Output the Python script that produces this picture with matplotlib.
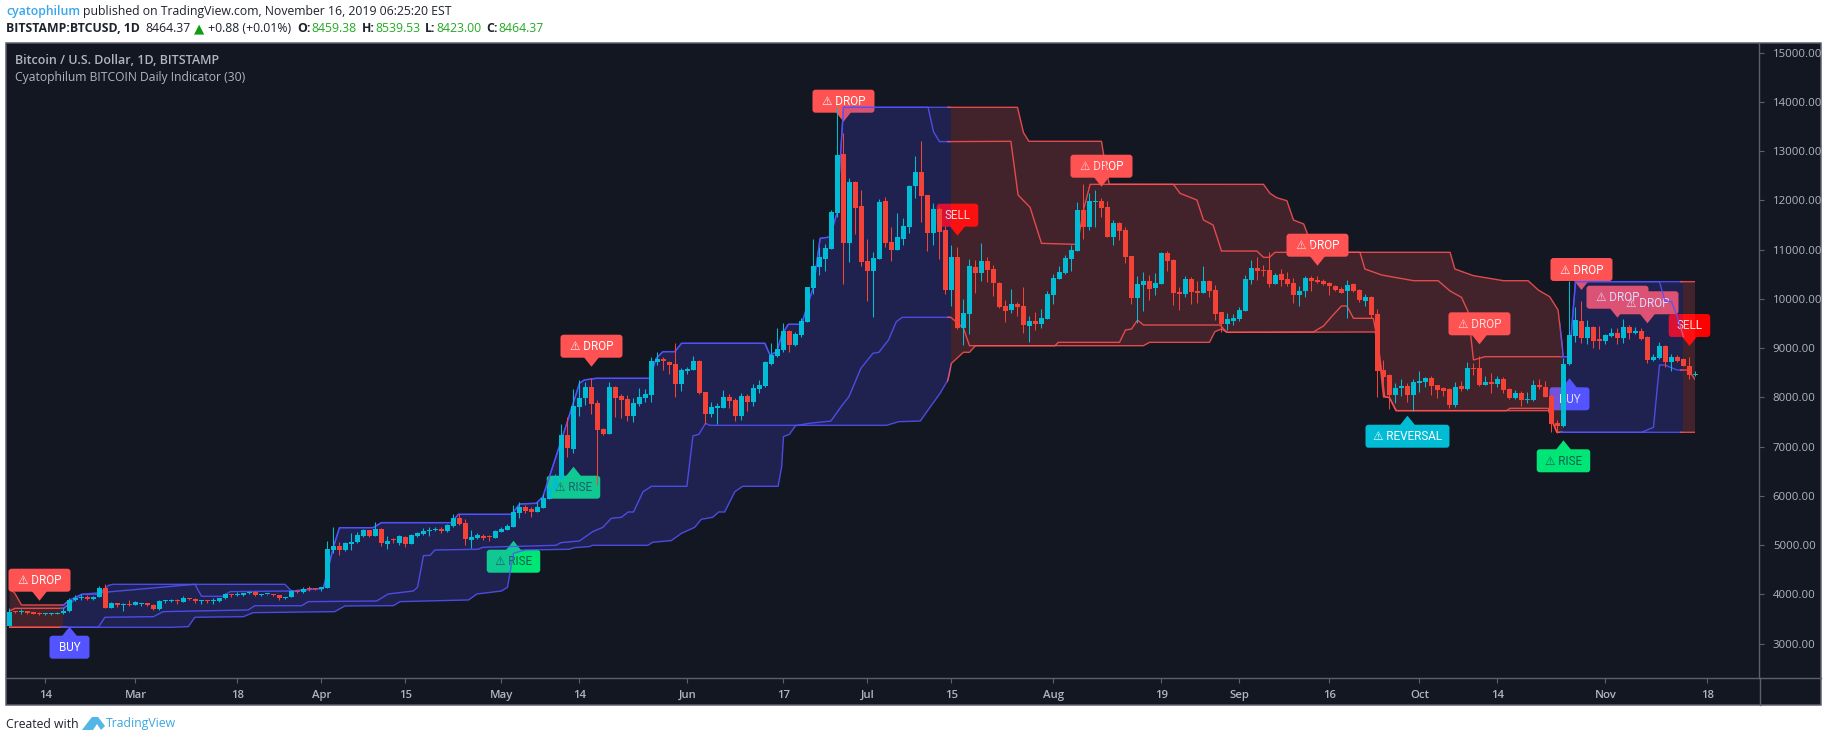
import numpy as np
import matplotlib
matplotlib.use("Agg")
import matplotlib.pyplot as plt
from matplotlib.patches import FancyBboxPatch, Polygon, Rectangle
from matplotlib.lines import Line2D
from matplotlib.transforms import IdentityTransform

opens = [
3356,3633,3630,3665,3612,3608,3590,3595,3600,3620,
3650,3884,3920,3950,3895,3950,4130,3730,3825,3790,
3805,3790,3810,3820,3790,3695,3860,3865,3875,3850,
3925,3900,3855,3870,3862,3865,3915,4000,3985,3990,
4020,4045,3985,3995,3995,3980,3925,3940,4075,4040,
4115,4110,4105,4134,4905,4973,4905,5030,5060,5183,
5298,5190,5332,5021,5105,5048,5156,5021,5183,5224,
5278,5298,5325,5278,5386,5542,5447,5109,5143,5190,
5170,5150,5272,5305,5373,5657,5772,5731,5677,5759,
5935,6138,6334,7234,6957,7809,7992,8208,7877,7349,
7254,8202,8026,7965,7626,7870,7978,8046,8709,8777,
8723,8675,8276,8540,8560,8736,8107,7660,7782,7782,
8006,7945,7620,8026,7904,8168,8229,8675,8838,8960,
9339,9061,9258,9535,10219,10645,10808,11011,11742,12940,
11132,12371,11884,10767,10564,10808,11985,11152,10990,11213,
11457,12290,12574,12107,11335,11823,11396,10178,10848,9413,
9697,10644,10523,10766,10597,10320,9853,9771,9893,9853,
9447,9548,9487,9589,10076,10401,10516,10807,10969,11802,
11457,11964,11984,11863,11254,11538,11396,10868,10015,10279,
10360,10218,10299,10929,10787,10137,10096,10401,10157,10117,
10360,10177,9731,9487,9548,9589,9751,10381,10624,10577,
10584,10299,10502,10401,10320,10076,10157,10415,10381,10360,
10320,10259,10198,10157,10300,10178,9954,10042,9690,8553,
8452,8046,8188,8229,8046,8290,8310,8391,8249,8188,
8175,7843,8229,8168,8594,8594,8249,8303,8269,8371,
8168,7985,8086,7944,7944,8249,8208,8026,7477,7417,
8675,9244,9548,9203,9427,9183,9142,9244,9305,9203,
9427,9305,9345,9224,8757,8797,9041,8716,8817,8777,
8635,8459.38]

closes = [
3633,3630,3665,3612,3608,3590,3595,3610,3620,3650,
3884,3920,3950,3895,3950,4130,3730,3825,3790,3805,
3790,3835,3820,3790,3695,3860,3870,3875,3860,3925,
3900,3855,3870,3862,3865,3915,4000,3985,3990,4020,
4045,3985,3995,3995,3980,3925,3940,4075,4040,4115,
4110,4105,4145,4912,4973,4900,5041,5060,5203,5298,
5190,5318,5035,5088,5095,5183,5021,5204,5244,5285,
5312,5325,5291,5407,5542,5427,5129,5163,5197,5150,
5155,5285,5325,5386,5670,5779,5684,5677,5772,5955,
6165,6361,7234,6970,7823,7985,8208,7863,7342,7254,
8202,7992,7945,7626,7884,7999,8066,8736,8770,8730,
8662,8276,8554,8574,8736,8087,7660,7802,7823,7999,
7931,7620,8026,7911,8181,8249,8716,8858,8973,9339,
9061,9285,9542,10239,10665,10848,11031,11762,12919,11132,
12371,11850,10747,10564,10828,11965,11132,10990,11254,11478,
12290,12574,12087,11335,11823,11356,10178,10848,9407,9704,
10658,10523,10766,10584,10326,9832,9751,9893,9832,9467,
9548,9487,9609,10096,10421,10543,10827,10990,11802,11457,
11984,11984,11842,11247,11538,11375,10848,10015,10299,10360,
10198,10320,10929,10766,10117,10096,10401,10137,10117,10360,
10157,9690,9487,9589,9609,9771,10401,10624,10563,10563,
10299,10482,10381,10299,10076,10157,10421,10367,10347,10300,
10266,10178,10124,10279,10164,9975,10042,9670,8540,8405,
8046,8188,8229,8046,8310,8330,8391,8229,8147,8127,
7843,8208,8168,8594,8578,8249,8310,8276,8371,8147,
7985,8086,7944,7965,8249,8208,8005,7457,7417,8675,
9264,9569,9203,9427,9142,9142,9264,9305,9203,9427,
9305,9345,9183,8757,8817,9041,8716,8817,8736,8635,
8452,8464.37]

highs = [
3714,3650,3700,3670,3640,3640,3610,3620,3640,3720,
3930,3980,4000,3990,3960,4165,4210,3840,3830,3830,
3880,3860,3830,3830,3800,3880,3890,3900,3910,3960,
3930,3915,3890,3880,3920,3925,4030,4005,4040,4030,
4060,4065,4010,4010,4000,3985,3950,4090,4085,4140,
4175,4135,4155,5082,5359,5068,5060,5237,5270,5330,
5310,5467,5350,5183,5149,5204,5183,5217,5258,5339,
5373,5366,5373,5427,5630,5623,5522,5305,5237,5224,
5204,5305,5359,5427,5813,5880,5813,5765,5880,6036,
6253,6442,7457,7593,8168,8351,8317,8385,7945,7369,
8303,8229,8066,8046,7992,8181,8161,8825,8926,8811,
8736,9109,8588,8621,8838,8757,8107,7911,7890,8148,
8060,7978,8080,8066,8269,8351,8743,9095,9400,9501,
9366,9332,9603,10245,11214,11058,11112,11803,13887,13359,
12445,12398,12209,11214,10943,12033,12060,11451,11735,11633,
12300,12899,13203,12110,11938,11870,11478,11092,11058,9995,
10807,10787,11132,10841,10685,10333,9974,10198,9927,10238,
9650,9724,9785,10157,10496,10672,10888,11091,11957,12330,
12147,12208,12052,11984,11599,11565,11450,10868,10462,10550,
10482,10523,10956,10969,10800,10238,10462,10448,10360,10665,
10380,10279,9731,9704,9690,9826,10482,10787,10841,10685,
10942,10516,10604,10550,10414,10259,10462,10462,10469,10394,
10333,10279,10232,10381,10327,10198,10090,10056,9785,8757,
8465,8296,8364,8283,8364,8533,8418,8432,8249,8215,
8188,8317,8337,8716,8689,8838,8432,8486,8432,8418,
8181,8147,8127,8114,8350,8364,8330,8066,7538,8804,
10367,9839,9954,9569,9447,9447,9278,9400,9400,9582,
9460,9420,9400,9244,8878,9129,9061,8878,8851,8790,
8811,8539.53]

lows = [
3350,3610,3600,3590,3590,3570,3570,3570,3590,3600,
3640,3860,3890,3880,3875,3935,3725,3720,3750,3670,
3760,3780,3770,3770,3690,3690,3830,3850,3810,3840,
3880,3820,3810,3830,3810,3850,3910,3950,3970,3970,
4000,3960,3965,3980,3960,3880,3905,3935,4035,4030,
4060,4090,4065,4125,4831,4797,4885,4900,5040,5160,
5170,5180,4987,4926,5048,5001,4967,5021,5170,5204,
5190,5278,5251,5264,5373,5407,5001,4933,5122,5102,
5088,5149,5271,5305,5373,5542,5643,5576,5677,5745,
5935,6083,6334,6780,6875,7626,7843,7660,6212,7234,
7254,7606,7572,7525,7491,7823,7911,7911,8655,8554,
8472,8012,8127,8472,8554,8066,7457,7606,7457,7775,
7775,7525,7538,7721,7823,8094,8202,8655,8825,8926,
8926,9041,9231,9535,10097,10483,10564,11011,11667,10300,
10747,11315,10665,9962,9637,10808,11058,10767,10990,11092,
11342,12053,11559,10970,11092,10808,10097,9860,9380,9061,
9284,10110,10367,10347,10062,9819,9534,9704,9656,9311,
9128,9365,9399,9589,9893,10401,10502,10570,10969,11213,
11396,11463,11660,11247,11091,11193,10732,9893,9501,9758,
9974,10083,10299,10563,9866,9771,10042,9893,9920,10110,
10042,9568,9331,9365,9467,9555,9751,10299,10380,10462,
10232,10299,10259,10259,9920,9853,10042,10164,10313,10279,
10076,10164,10110,9616,10144,9941,9860,9603,8012,8012,
7755,7890,8026,7910,7728,8114,8215,8046,7978,8026,
7789,7809,8134,8147,8452,8229,8249,8093,8215,8080,
7958,7971,7823,7890,7931,8161,7998,7301,7281,7403,
8655,9129,9095,9075,8993,8980,9081,9217,9075,9095,
9183,9278,9163,8689,8736,8770,8608,8540,8716,8635,
8371,8423.00]

upper_outer_days = [0,0.9,2,9,10,12,14.8,16.5,17.3,45.9,47,52.3,54,55,60.6,62,73.7,74.8,83.7,85,87.8,88.9,92.8,95,95.8,97.8,106.7,107.8,108.9,110.9,112,125.9,126.75,127.9,128.7,129.8,132,134,135.1,136.75,137.9,139,168,169,169.9,182,182.5,183.3,209,210.1,211.2,212.9,214,215.7,216.3,217,240.1,240.9,242.9,244,249,253.1,254.8,256.7,258.1,259,260,261,281]
upper_outer_vals = [4120,4019,3782,3782,3884,3999,3999,4181,4202,4202,4066,4120,4967,5352,5352,5454,5454,5623,5623,5833,5847,5982,7437,8283,8351,8385,8385,8791,8926,8926,9095,9095,8858,8926,9265,9481,9481,10246,11227,11254,11735,13887,13887,13372,13197,13197,12820,12324,12323,12140,12052,11991,11599,11518,11328,10943,10943,10604,10516,10469,10367,10367,10178,10042,9772,8824,8824,10347,10347]

upper_inner_days = [0,0.9,9,12,30.9,32,35.6,36.75,47,52.3,54,55,60.6,62,73.7,74.8,83.7,85,87.8,88.9,92.8,95,95.8,97.8,106.7,107.8,108.9,110.9,112,125.9,126.75,127.9,128.7,129.8,132,134,135.1,136.75,137.9,139,153.1,154,155,166.9,168.1,170.1,172,177.6,178,179,180.1,194,195.1,197.9,199,200.6,202,207.9,209,210,210.9,212.9,225.08,225.9,228.7,234,238.1,240.1,242,243.1,244,245.9,259,260,261,275,275.9,277,277.75,278.4,279]
upper_inner_vals = [3660,3714,3714,3999,4202,3958,3958,4053,4066,4120,4967,5352,5352,5454,5454,5623,5623,5833,5847,5982,7437,8283,8351,8385,8385,8791,8926,8926,9095,9095,8858,8926,9265,9481,9481,10246,11227,11254,11735,13887,13887,13393,13190,13197,12106,11856,11125,11105,11125,11802,12323,12323,12140,12005,11599,11497,10969,10969,10841,10841,10942,10942,10943,10604,10482,10367,10367,10157,10029,9738,8757,8824,8824,8824,10347,10347,9954,9941,9704,9467,9230]

lower_inner_days = [0,14.8,15.9,24,25.6,39.8,40.9,48.7,49.8,61.2,63.1,67.3,68,69,70.1,70.9,78.1,78.9,91.1,91.9,95,97.2,98.9,100.3,102,103.1,104,105.6,107,112.9,113.9,114.9,116,116.7,146.2,148.2,151.8,153.1,155.1,156.4,157,159,160,161,174.25,174.8,185,186,187,188,189,201.75,202.9,217.3,219,220.6,222,222.9,224,227.3,228,229,230,231.1,249.5,250.1,256.5,257,257.9,272,274,275,275.9,277.9,279.8,281]
lower_inner_vals = [3329,3329,3532,3545,3647,3681,3768,3768,3850,3863,4005,4066,4141,4784,4791,4899,4913,4953,4994,5048,5082,5271,5359,5542,5562,5670,5670,6083,6192,6192,7214,7248,7471,7430,7430,7504,7517,7741,8080,8350,8690,8913,8913,9047,9047,9115,9115,9365,9385,9568,9467,9467,9318,9325,9447,9670,9853,9853,9603,9603,9163,8012,7992,7728,7728,7775,7775,7538,7288,7288,7389,8655,8655,8553,8553,8350]

lower_outer_days = [0,27,29.8,30.9,39,40.6,54.2,55.9,64,65.1,76.5,77.9,82,83,84,86,93.3,94.1,96.6,97.2,106.4,107.2,110.3,112,114.2,115.3,117.2,118.2,119.2,120.9,122.2,128.1,128.7,129,130,131,133.3,136.9,138.6,139.9,141.9,143.9,144.9,146.5,147.8,148.8,156.9,159,160,189,190,200,200.9,202,202.9,227.6,228.2,229.2,230,231.1,256.5,257.9,281]
lower_outer_vals = [3329,3329,3342,3532,3545,3626,3647,3762,3769,3850,3884,4005,4066,4141,4831,4899,4913,4946,4967,4994,4994,5055,5089,5237,5359,5522,5562,5670,5670,6083,6192,6192,6591,7200,7248,7423,7471,7517,7808,8011,8587,8892,8913,9162,9534,9623,9623,9399,9047,9047,9115,9115,9331,9385,9318,9325,9000,8012,7992,7728,7728,7288,7288]

regime_edges = [0,9,156.9,259,279,281]
regime_names = ["bear","bull","bear","bull","bear"]

label_text = ["DROP","BUY","RISE","RISE","DROP","DROP","SELL","DROP","DROP","REVERSAL","DROP","BUY","RISE","DROP","DROP","DROP","SELL"]
label_day = [5,10,84,94,97,139,158,182,218,233,245,260,259,262,268,273,280]
label_tip = [3869,3341,5087,6590,8620,13595,11280,12275,10671,7625,9075,8385,7126,10178,9615,9502,9041]
label_kind = ["dn","up","up","up","dn","dn","dn","dn","dn","up","dn","up","up","dn","dn","dn","dn"]

price_ticks = list(range(3000,16000,1000))
date_labels = ["14","Mar","18","Apr","15","May","14","Jun","17","Jul","15","Aug","19","Sep","16","Oct","14","Nov","18"]
date_days = [6,21,38,52,66,82,95,113,129,143,157,174,192,205,220,235,248,266,283]

W,H = 1828,742
BG = "#131722"
BORDER = "#5d606b"
TXT = "#b2b5be"
UPC = "#00bcd4"
DNC = "#f44336"
BLUE = "#5353ff"
RED = "#ff5252"
SANS = ["Open Sans","DejaVu Sans"]
NARROW = ["Roboto","DejaVu Sans"]
LABEL_COL = {"DROP":RED,"BUY":"#5353ff","RISE":"#00e676","SELL":"#ff0000","REVERSAL":"#00bcd4"}
LABEL_W = {"DROP":62,"BUY":40,"RISE":53.5,"SELL":41.5,"REVERSAL":84}
LABEL_TC = {"RISE":"#115e4c"}

fig = plt.figure(figsize=(W/100,H/100),dpi=100,facecolor="white")
fig.add_artist(Rectangle((6/W,1-705/H),(1821-6)/W,(705-43)/H,transform=fig.transFigure,facecolor=BG,edgecolor=BORDER,lw=1.1,zorder=-5))
ax = fig.add_axes([6/W,1-678/H,(1759.5-6)/W,(678-43)/H],facecolor="none")
ax.set_xlim(-0.583,291.67)
ax.set_ylim(2299.5,15193)
for s in ["top","left"]:
    ax.spines[s].set_visible(False)
for s in ["right","bottom"]:
    ax.spines[s].set_color(BORDER); ax.spines[s].set_linewidth(1.0)
ax.yaxis.tick_right()
ax.set_yticks(price_ticks)
ax.set_yticklabels([f"{v:.2f}" for v in price_ticks],family=SANS,fontsize=8.2,color=TXT)
ax.set_xticks(date_days)
ax.set_xticklabels(date_labels,family=SANS,fontsize=8.2,color=TXT,fontweight="semibold")
ax.tick_params(axis="y",length=3.6,width=0.8,color=BORDER,pad=6)
ax.tick_params(axis="x",length=3.6,width=0.8,color=BORDER,pad=5)
fig.add_artist(Line2D([1759.5/W]*2,[1-705/H,1-678/H],color=BORDER,lw=1.0,zorder=-4))
fig.add_artist(Line2D([1759.5/W,1821/W],[1-678/H]*2,color=BORDER,lw=1.0,zorder=-4))

fig.canvas.draw()
tr = ax.transData
for txt,d,p,kind in zip(label_text,label_day,label_tip,label_kind):
    tx,ty = tr.transform((d,p))
    w = LABEL_W[txt]; h = 23; ph = 9
    col = LABEL_COL[txt]
    if kind=="dn":
        y0 = ty+ph; base = y0+1
    else:
        y0 = ty-ph-h; base = y0+h-1
    ax.add_patch(FancyBboxPatch((tx-w/2+2,y0+2),w-4,h-4,boxstyle="round,pad=2,rounding_size=3",facecolor=col,edgecolor="none",transform=IdentityTransform(),zorder=1,clip_on=False))
    ax.add_patch(Polygon([(tx-8,base),(tx+8,base),(tx,ty)],facecolor=col,edgecolor="none",transform=IdentityTransform(),zorder=1,clip_on=False))
    s = txt if txt in("BUY","SELL") else "\u26a0 "+txt
    ax.text(tx,y0+h/2-0.5,s,transform=IdentityTransform(),ha="center",va="center",family=NARROW,fontsize=8.4,color=LABEL_TC.get(txt,"white"),zorder=1.1,clip_on=False)

ymin,ymax = 2299.5,15193
grid = np.union1d(np.union1d(upper_outer_days,upper_inner_days),np.union1d(lower_inner_days,lower_outer_days))
env_top = np.maximum(np.interp(grid,upper_outer_days,upper_outer_vals),np.interp(grid,upper_inner_days,upper_inner_vals))
env_bot = np.minimum(np.interp(grid,lower_inner_days,lower_inner_vals),np.interp(grid,lower_outer_days,lower_outer_vals))
for a,b,name in zip(regime_edges[:-1],regime_edges[1:],regime_names):
    col = BLUE if name=="bull" else RED
    clip = Rectangle((a,ymin),b-a,ymax-ymin,transform=ax.transData)
    poly = ax.fill_between(grid,env_bot,env_top,facecolor=col,alpha=0.2,edgecolor="none",linewidth=0,zorder=2)
    poly.set_clip_path(clip)
    clip_line = Rectangle((a-0.6 if a else a,ymin),b-a+0.6,ymax-ymin,transform=ax.transData)
    for xs,ys in [(upper_outer_days,upper_outer_vals),(upper_inner_days,upper_inner_vals),(lower_inner_days,lower_inner_vals),(lower_outer_days,lower_outer_vals)]:
        ln, = ax.plot(xs,ys,color=col,lw=1.0,alpha=0.85,zorder=3,solid_joinstyle="round")
        ln.set_clip_path(clip_line)

assert len(opens)==len(closes)==len(highs)==len(lows),(len(opens),len(closes),len(highs),len(lows))
days = np.arange(len(opens))
o,c,hi,lo = map(np.array,(opens,closes,highs,lows))
cols = np.where(c>=o,UPC,DNC)
ax.vlines(days,lo,hi,colors=cols,lw=0.75,zorder=4)
ax.bar(days,np.maximum(np.abs(c-o),22),bottom=np.minimum(o,c),width=0.78,color=cols,linewidth=0,zorder=4.1)

def t(x,y,s,**k):
    k.setdefault("family",SANS); k.setdefault("fontsize",8.8); k.setdefault("color","#1e222d")
    fig.text(x/W,1-y/H,s,va="center",ha=k.pop("ha","left"),**k)
t(6,12,"cyatophilum",color="#37a6ef",fontweight="semibold")
t(83,12,"published on TradingView.com, November 16, 2019 06:25:20 EST")
t(6,29,"BITSTAMP:BTCUSD, 1D",fontweight="bold")
t(145,29,"8464.37")
t(194,29,"\u25b2",color="#0f9d0f",family=["DejaVu Sans"],fontsize=9.6)
t(208,29,"+0.88 (+0.01%)")
G="#22ab22"
for xa,xb,a,b in [(297,311,"O:","8459.38"),(361.5,375,"H:","8539.53"),(425,436,"L:","8423.00"),(486,498,"C:","8464.37")]:
    t(xa,29,a,fontweight="bold"); t(xb,29,b,color=G)
t(15,60,"Bitcoin / U.S. Dollar, 1D, BITSTAMP",color=TXT,fontsize=9.0,fontweight="semibold")
t(15,77,"Cyatophilum BITCOIN Daily Indicator (30)",color=TXT,fontsize=8.7)
t(6,724,"Created with",fontsize=8.8)
fig.add_artist(Polygon([(82/W,1-730/H),(88/W,1-722/H),(92/W,1-717/H),(98/W,1-717/H),(105/W,1-726/H),(101/W,1-730/H),(97/W,1-724/H),(93/W,1-730/H)],transform=fig.transFigure,facecolor="#52b7e6",edgecolor="none"))
t(106,724,"TradingView",color="#3ba7df",fontsize=8.8)

fig.savefig("out.png",dpi=100,facecolor="white")
